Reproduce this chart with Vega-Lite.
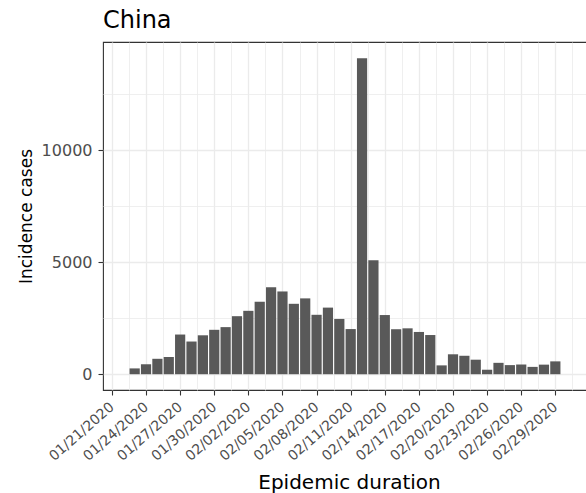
{
  "$schema": "https://vega.github.io/schema/vega-lite/v6.json",
  "autosize": {"type": "none"},
  "padding": {"left": 103, "top": 42, "right": 0, "bottom": 103},
  "width": 484,
  "height": 348,
  "background": "white",
  "title": {
    "text": "China",
    "anchor": "start",
    "frame": "group",
    "baseline": "alphabetic",
    "offset": 13,
    "dy": 23,
    "font": "DejaVu Sans",
    "fontSize": 24,
    "fontWeight": "normal",
    "color": "#000000"
  },
  "config": {
    "view": {"stroke": "#333333", "strokeWidth": 1.1},
    "axis": {
      "domain": false,
      "tickColor": "#333333",
      "tickWidth": 1.1,
      "labelColor": "#4D4D4D",
      "labelFont": "DejaVu Sans",
      "titleFont": "DejaVu Sans",
      "titleFontWeight": "normal",
      "titleColor": "#000000",
      "gridColor": "#EBEBEB",
      "labelOverlap": false,
      "labelBound": false,
      "labelFlush": false
    }
  },
  "data": {
    "values": [
      {"date": "2020-01-23", "cases": 259},
      {"date": "2020-01-24", "cases": 444},
      {"date": "2020-01-25", "cases": 688},
      {"date": "2020-01-26", "cases": 769},
      {"date": "2020-01-27", "cases": 1771},
      {"date": "2020-01-28", "cases": 1459},
      {"date": "2020-01-29", "cases": 1737},
      {"date": "2020-01-30", "cases": 1982},
      {"date": "2020-01-31", "cases": 2102},
      {"date": "2020-02-01", "cases": 2590},
      {"date": "2020-02-02", "cases": 2829},
      {"date": "2020-02-03", "cases": 3235},
      {"date": "2020-02-04", "cases": 3887},
      {"date": "2020-02-05", "cases": 3694},
      {"date": "2020-02-06", "cases": 3143},
      {"date": "2020-02-07", "cases": 3385},
      {"date": "2020-02-08", "cases": 2652},
      {"date": "2020-02-09", "cases": 2973},
      {"date": "2020-02-10", "cases": 2467},
      {"date": "2020-02-11", "cases": 2015},
      {"date": "2020-02-12", "cases": 14108},
      {"date": "2020-02-13", "cases": 5090},
      {"date": "2020-02-14", "cases": 2641},
      {"date": "2020-02-15", "cases": 2008},
      {"date": "2020-02-16", "cases": 2048},
      {"date": "2020-02-17", "cases": 1886},
      {"date": "2020-02-18", "cases": 1749},
      {"date": "2020-02-19", "cases": 394},
      {"date": "2020-02-20", "cases": 889},
      {"date": "2020-02-21", "cases": 823},
      {"date": "2020-02-22", "cases": 648},
      {"date": "2020-02-23", "cases": 200},
      {"date": "2020-02-24", "cases": 508},
      {"date": "2020-02-25", "cases": 406},
      {"date": "2020-02-26", "cases": 433},
      {"date": "2020-02-27", "cases": 327},
      {"date": "2020-02-28", "cases": 427},
      {"date": "2020-02-29", "cases": 573}
    ]
  },
  "mark": {"type": "bar", "width": 10.2, "color": "#595959"},
  "encoding": {
    "x": {
      "field": "date",
      "type": "temporal",
      "title": "Epidemic duration",
      "scale": {
        "type": "utc",
        "domain": [
          {"year": 2020, "month": 1, "date": 20, "hours": 15, "minutes": 43, "utc": true},
          {"year": 2020, "month": 3, "date": 2, "hours": 8, "minutes": 17, "utc": true}
        ]
      },
      "axis": {
        "format": "%m/%d/%Y",
        "values": [
          {"year": 2020, "month": 1, "date": 21, "utc": true},
          {"year": 2020, "month": 1, "date": 22, "hours": 12, "utc": true},
          {"year": 2020, "month": 1, "date": 24, "utc": true},
          {"year": 2020, "month": 1, "date": 25, "hours": 12, "utc": true},
          {"year": 2020, "month": 1, "date": 27, "utc": true},
          {"year": 2020, "month": 1, "date": 28, "hours": 12, "utc": true},
          {"year": 2020, "month": 1, "date": 30, "utc": true},
          {"year": 2020, "month": 1, "date": 31, "hours": 12, "utc": true},
          {"year": 2020, "month": 2, "date": 2, "utc": true},
          {"year": 2020, "month": 2, "date": 3, "hours": 12, "utc": true},
          {"year": 2020, "month": 2, "date": 5, "utc": true},
          {"year": 2020, "month": 2, "date": 6, "hours": 12, "utc": true},
          {"year": 2020, "month": 2, "date": 8, "utc": true},
          {"year": 2020, "month": 2, "date": 9, "hours": 12, "utc": true},
          {"year": 2020, "month": 2, "date": 11, "utc": true},
          {"year": 2020, "month": 2, "date": 12, "hours": 12, "utc": true},
          {"year": 2020, "month": 2, "date": 14, "utc": true},
          {"year": 2020, "month": 2, "date": 15, "hours": 12, "utc": true},
          {"year": 2020, "month": 2, "date": 17, "utc": true},
          {"year": 2020, "month": 2, "date": 18, "hours": 12, "utc": true},
          {"year": 2020, "month": 2, "date": 20, "utc": true},
          {"year": 2020, "month": 2, "date": 21, "hours": 12, "utc": true},
          {"year": 2020, "month": 2, "date": 23, "utc": true},
          {"year": 2020, "month": 2, "date": 24, "hours": 12, "utc": true},
          {"year": 2020, "month": 2, "date": 26, "utc": true},
          {"year": 2020, "month": 2, "date": 27, "hours": 12, "utc": true},
          {"year": 2020, "month": 2, "date": 29, "utc": true},
          {"year": 2020, "month": 3, "date": 1, "hours": 12, "utc": true}
        ],
        "labelExpr": "(datum.value - 1579564800000) % 259200000 === 0 ? datum.label : ''",
        "labelAngle": -41,
        "labelAlign": "right",
        "labelBaseline": "middle",
        "labelFontSize": 14,
        "labelPadding": 10,
        "tickSize": 5,
        "tickOpacity": {"condition": {"test": "(datum.value - 1579564800000) % 259200000 === 0", "value": 1}, "value": 0},
        "gridWidth": {"condition": {"test": "(datum.value - 1579564800000) % 259200000 === 0", "value": 1.3}, "value": 0.8},
        "titleFontSize": 20,
        "titleAnchor": "start",
        "titleAlign": "center",
        "titleBaseline": "alphabetic",
        "titleX": 246,
        "titleY": 98
      }
    },
    "y": {
      "field": "cases",
      "type": "quantitative",
      "title": "Incidence cases",
      "scale": {"domain": [-705, 14830], "nice": false, "zero": false},
      "axis": {
        "values": [0, 2500, 5000, 7500, 10000, 12500],
        "labelExpr": "datum.value % 5000 === 0 ? datum.value : ''",
        "labelFontSize": 16,
        "labelPadding": 6,
        "tickSize": 5,
        "tickOpacity": {"condition": {"test": "datum.value % 5000 === 0", "value": 1}, "value": 0},
        "gridWidth": {"condition": {"test": "datum.value % 5000 === 0", "value": 1.3}, "value": 0.8},
        "titleFontSize": 17,
        "titleAngle": -90,
        "titleAlign": "center",
        "titleBaseline": "alphabetic",
        "titleX": -72,
        "titleY": 174
      }
    }
  }
}
